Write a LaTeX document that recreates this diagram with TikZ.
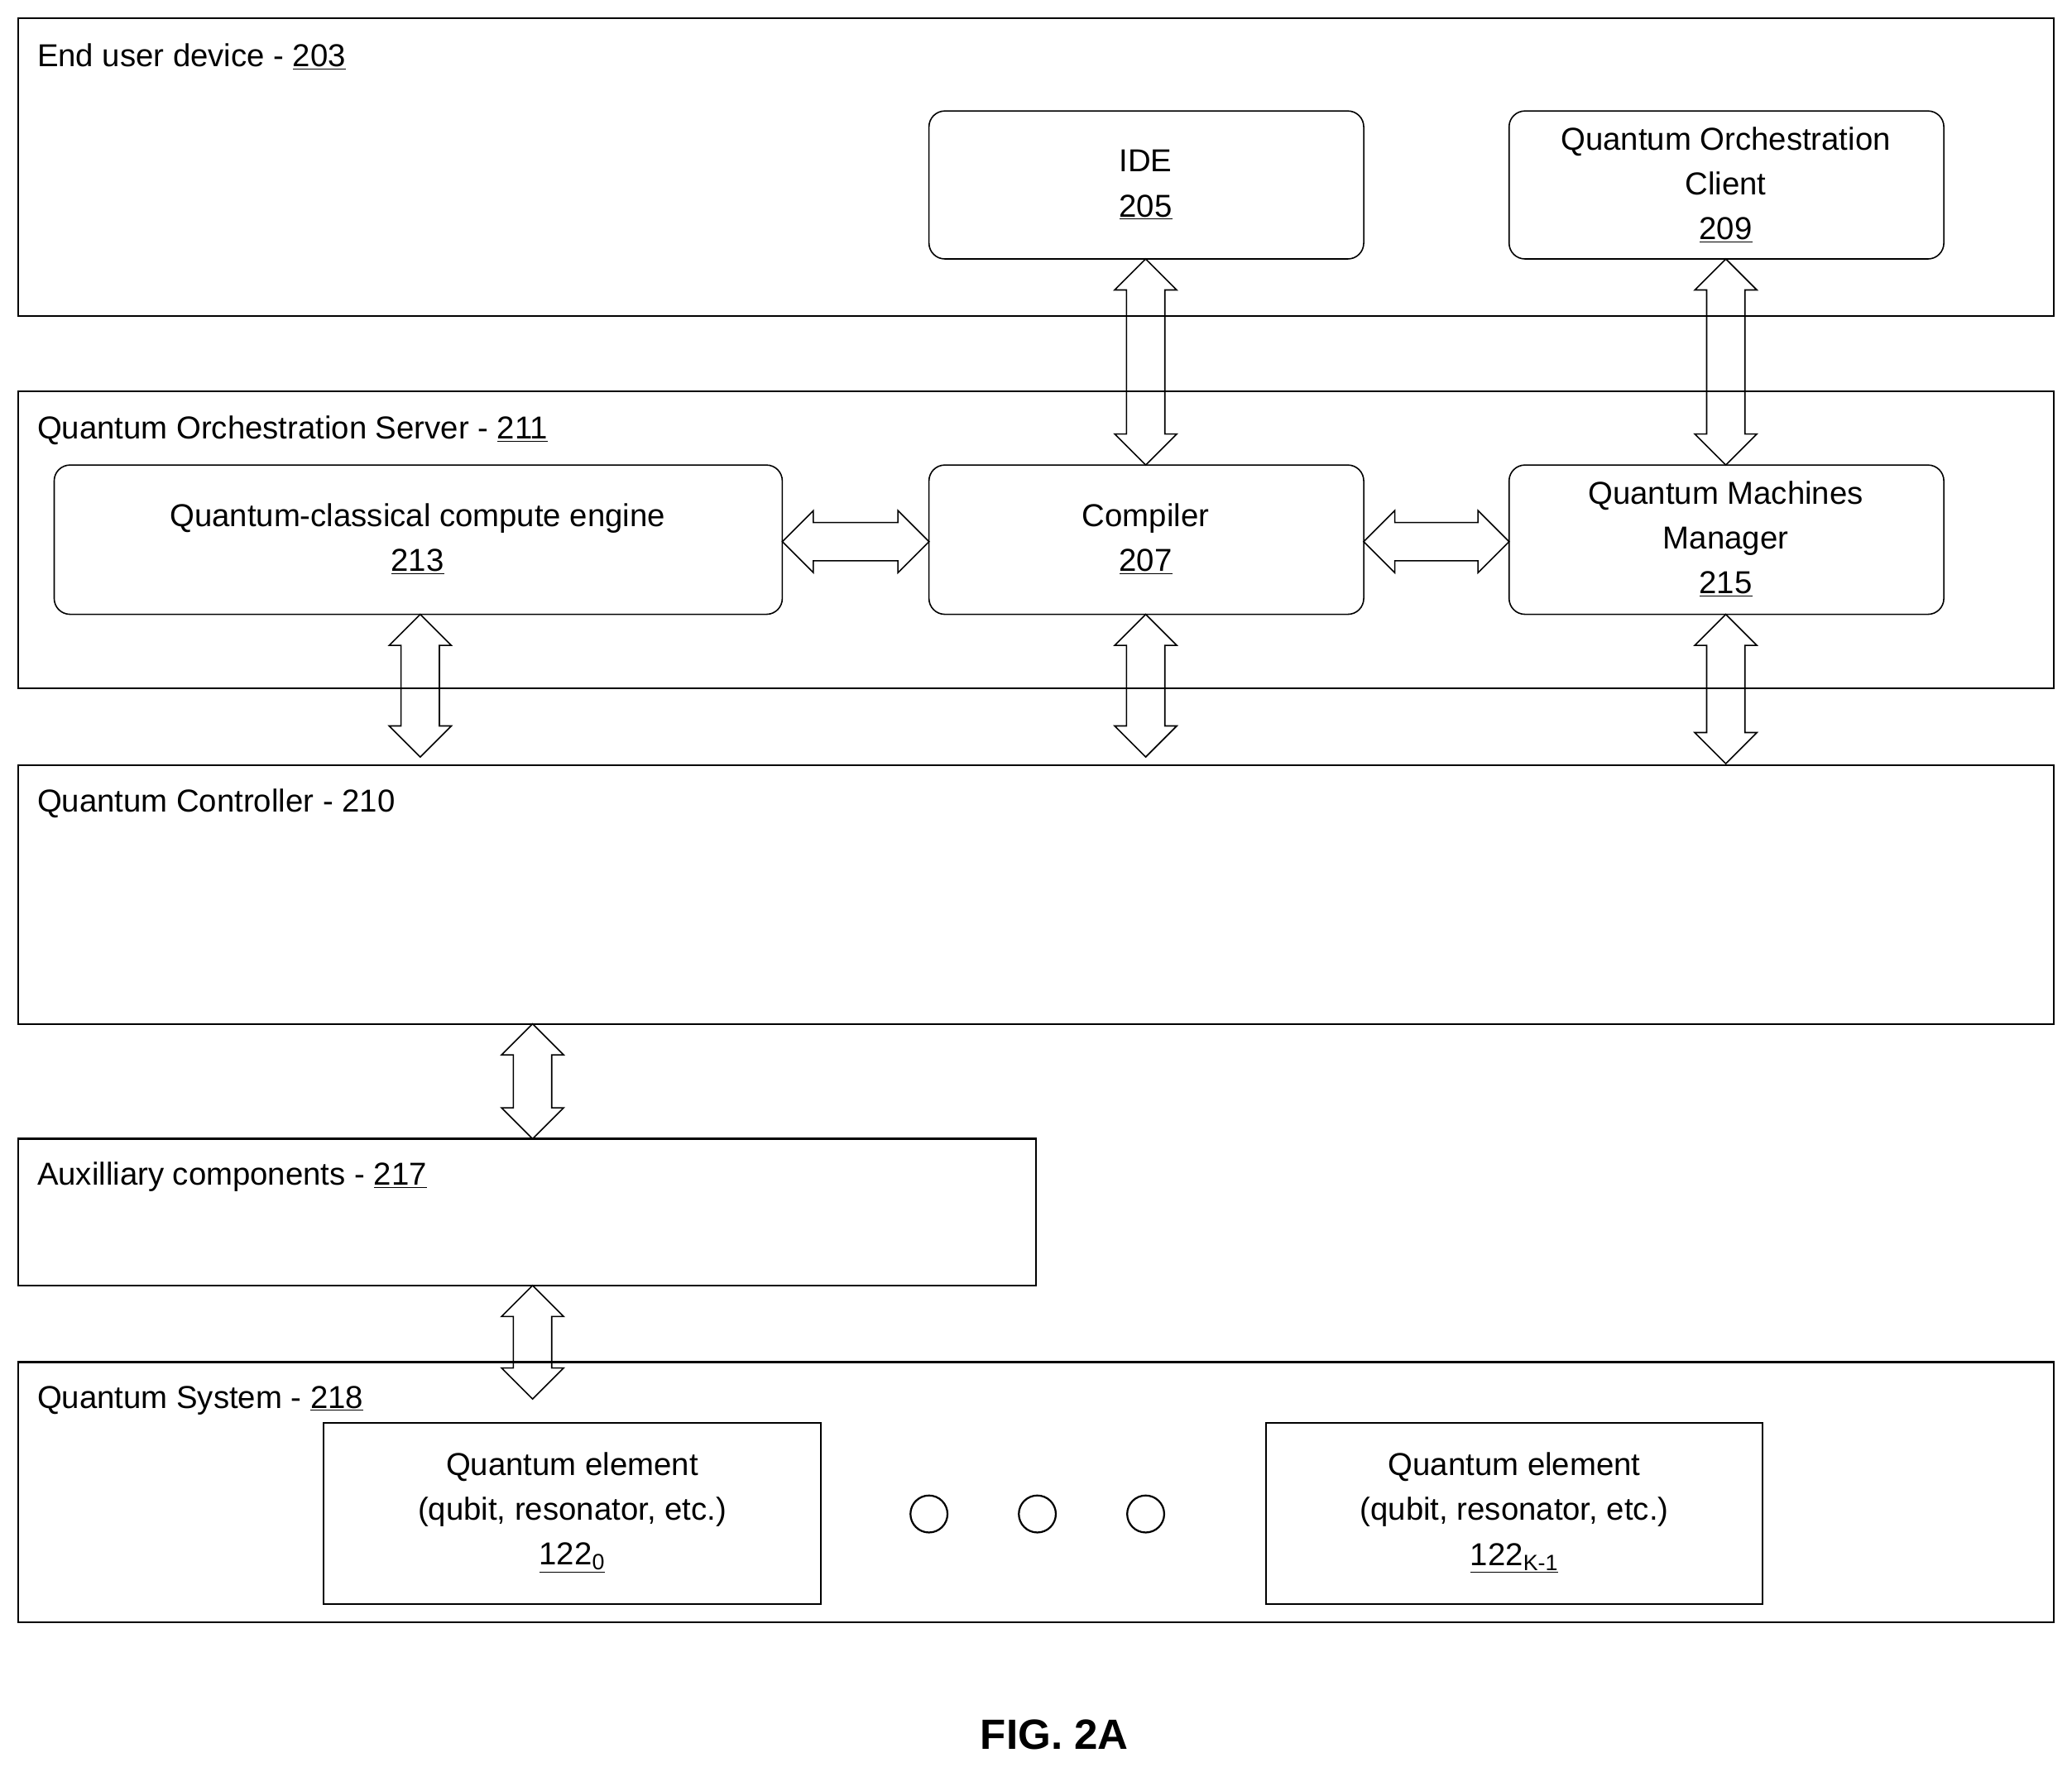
\documentclass[tikz,border=0pt]{standalone}
\usepackage{fontspec}
\setmainfont{Liberation Sans}
\usetikzlibrary{shapes.arrows}
\begin{document}
\begin{tikzpicture}[x=1pt,y=-1pt,
  every node/.style={font=\fontsize{24}{34}\selectfont},
  big/.style={draw,line width=1.4pt},
  rbox/.style={draw,line width=1pt,rounded corners=12pt},
  qbox/.style={draw,line width=1.4pt},
  lbl/.style={anchor=west,inner sep=0},
  dar/.style={double arrow,draw,line width=1pt,inner sep=14pt,double arrow head extend=9pt,minimum height=#1,shape border rotate=0}]
\useasboundingbox (0,0) rectangle (1568,1341);
\draw[big] (14,14) rectangle (1554,239);
\node[lbl] (l203) at (28,43) {End user device - \underline{203}};
\draw[rbox] (703,84) rectangle (1032,196);
\node[align=center] (ide) at (867,140) {IDE\\\underline{205}};
\draw[rbox] (1142,84) rectangle (1471,196);
\node[align=center] (qoc) at (1306,140) {Quantum Orchestration\\Client\\\underline{209}};
\draw[big] (14,296) rectangle (1554,521);
\node[lbl] (l211) at (28,326) {Quantum Orchestration Server - \underline{211}};
\draw[rbox] (41,352) rectangle (592,465);
\node[align=center] (qcce) at (316,408) {Quantum-classical compute engine\\\underline{213}};
\draw[rbox] (703,352) rectangle (1032,465);
\node[align=center] (comp) at (867,408) {Compiler\\\underline{207}};
\draw[rbox] (1142,352) rectangle (1471,465);
\node[align=center] (qmm) at (1306,408) {Quantum Machines\\Manager\\\underline{215}};
\draw[big] (14,579) rectangle (1554,775);
\node[lbl] (l210) at (28,608) {Quantum Controller - 210};
\draw[big] (14,862) rectangle (784,973);
\node[lbl] (l217) at (28,891) {Auxilliary components - \underline{217}};
\draw[big] (14,1031) rectangle (1554,1228);
\node[lbl] (l218) at (28,1060) {Quantum System - \underline{218}};
\draw[qbox] (245,1077) rectangle (621,1214);
\node[align=center] (qe0) at (433,1145) {Quantum element\\(qubit, resonator, etc.)\\\underline{122\textsubscript{0}}};
\draw[qbox] (958,1077) rectangle (1334,1214);
\node[align=center] (qek) at (1146,1145) {Quantum element\\(qubit, resonator, etc.)\\\underline{122\textsubscript{K-1}}};
\foreach \x/\n in {703/c1,785/c2,867/c3} \draw[line width=1.4pt] (\x,1146) circle (14);
% arrows
\node[dar=156pt,rotate=90] (a1) at (867,274) {};
\node[dar=156pt,rotate=90] (a2) at (1306,274) {};
\node[dar=111pt] (a3) at (647.5,410) {};
\node[dar=110pt] (a4) at (1087,410) {};
\node[dar=108pt,rotate=90] (a5) at (318,519) {};
\node[dar=108pt,rotate=90] (a6) at (867,519) {};
\node[dar=113pt,rotate=90] (a7) at (1306,521.5) {};
\node[dar=87pt,rotate=90] (a8) at (403,818.5) {};
\node[dar=86pt,rotate=90] (a9) at (403,1016) {};
\node[font=\bfseries\fontsize{32}{36}\selectfont] (fig) at (798,1313) {FIG. 2A};
\end{tikzpicture}
\end{document}
